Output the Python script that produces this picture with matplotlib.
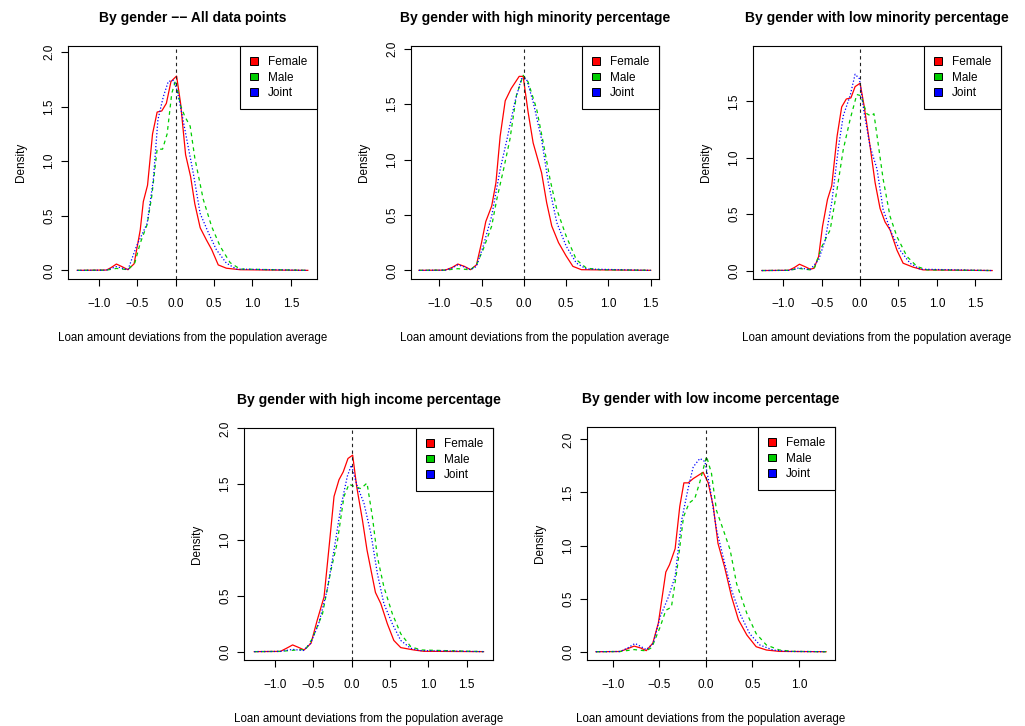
import matplotlib
matplotlib.use("Agg")
import matplotlib.pyplot as plt
from matplotlib.patches import Patch
from matplotlib.ticker import FuncFormatter

plt.rcParams['font.family'] = ['Liberation Sans', 'DejaVu Sans']

# --- density curves (x = deviation, y = density) ---

# panel 1: all data points
p1_fem_x = [-1.28, -0.90, -0.84, -0.77, -0.70, -0.62, -0.54, -0.46, -0.42, -0.365, -0.30, -0.24, -0.18, -0.12,
            -0.06, 0.013, 0.065, 0.13, 0.195, 0.25, 0.32, 0.40, 0.47, 0.555, 0.66, 0.84, 1.72]
p1_fem_y = [0, 0.003, 0.025, 0.058, 0.035, 0.006, 0.06, 0.37, 0.63, 0.78, 1.25, 1.45, 1.46, 1.53,
            1.73, 1.78, 1.53, 1.06, 0.86, 0.61, 0.39, 0.28, 0.19, 0.05, 0.02, 0.006, 0]
p1_male_x = [-1.28, -0.90, -0.77, -0.62, -0.53, -0.46, -0.37, -0.31, -0.24, -0.17, -0.11, -0.05, 0.0,
             0.065, 0.12, 0.19, 0.25, 0.36, 0.47, 0.58, 0.71, 0.84, 1.72]
p1_male_y = [0, 0.002, 0.018, 0.006, 0.07, 0.25, 0.42, 0.68, 1.11, 1.11, 1.25, 1.62, 1.74,
             1.51, 1.41, 1.32, 1.03, 0.65, 0.40, 0.22, 0.07, 0.012, 0]
p1_joint_x = [-1.28, -0.90, -0.77, -0.62, -0.51, -0.37, -0.29, -0.23, -0.16, -0.095, -0.03, 0.02, 0.08,
              0.14, 0.23, 0.32, 0.43, 0.53, 0.66, 0.79, 1.72]
p1_joint_y = [0, 0.002, 0.035, 0.005, 0.22, 0.43, 0.83, 1.38, 1.59, 1.73, 1.74, 1.65, 1.44,
              1.22, 0.89, 0.52, 0.34, 0.19, 0.067, 0.012, 0]

# panel 2: high minority percentage
p2_fem_x = [-1.24, -0.93, -0.85, -0.78, -0.70, -0.63, -0.56, -0.50, -0.45, -0.38, -0.33, -0.28, -0.22,
            -0.15, -0.055, -0.008, 0.05, 0.11, 0.21, 0.27, 0.33, 0.41, 0.50, 0.58, 0.68, 1.50]
p2_fem_y = [0, 0.002, 0.025, 0.057, 0.035, 0.006, 0.05, 0.25, 0.44, 0.58, 0.79, 1.21, 1.53,
            1.64, 1.75, 1.75, 1.43, 1.15, 0.88, 0.61, 0.40, 0.25, 0.13, 0.036, 0.006, 0]
p2_male_x = [-1.24, -0.93, -0.78, -0.63, -0.56, -0.48, -0.38, -0.32, -0.24, -0.165, -0.087, -0.008,
             0.05, 0.15, 0.23, 0.31, 0.39, 0.50, 0.62, 0.74, 0.90, 1.50]
p2_male_y = [0, 0.002, 0.015, 0.005, 0.05, 0.19, 0.40, 0.64, 0.91, 1.18, 1.58, 1.76,
             1.70, 1.46, 1.15, 0.82, 0.55, 0.31, 0.097, 0.02, 0.006, 0]
p2_joint_x = [-1.24, -0.93, -0.85, -0.78, -0.70, -0.63, -0.56, -0.48, -0.38, -0.28, -0.20, -0.106,
              -0.028, 0.03, 0.11, 0.21, 0.29, 0.39, 0.50, 0.62, 0.74, 1.50]
p2_joint_y = [0, 0.002, 0.02, 0.05, 0.03, 0.006, 0.036, 0.22, 0.49, 0.91, 1.18, 1.52,
              1.73, 1.73, 1.52, 1.18, 0.79, 0.43, 0.22, 0.066, 0.012, 0]

# panel 3: low minority percentage
p3_fem_x = [-1.28, -0.93, -0.86, -0.79, -0.72, -0.65, -0.60, -0.54, -0.49, -0.425, -0.37, -0.30, -0.24,
            -0.18, -0.12, -0.065, 0.0, 0.052, 0.13, 0.195, 0.26, 0.325, 0.39, 0.48, 0.56, 0.69, 0.82, 1.72]
p3_fem_y = [0, 0.002, 0.025, 0.056, 0.035, 0.012, 0.02, 0.125, 0.39, 0.63, 0.75, 1.19, 1.45,
            1.52, 1.53, 1.63, 1.66, 1.46, 1.10, 0.78, 0.55, 0.43, 0.36, 0.18, 0.065, 0.03, 0.006, 0]
p3_male_x = [-1.28, -0.93, -0.79, -0.65, -0.59, -0.50, -0.39, -0.30, -0.22, -0.13, -0.043, 0.009,
             0.087, 0.14, 0.18, 0.24, 0.30, 0.39, 0.48, 0.61, 0.74, 0.87, 1.72]
p3_male_y = [0, 0.002, 0.018, 0.006, 0.03, 0.21, 0.36, 0.72, 1.07, 1.34, 1.56, 1.55,
             1.39, 1.37, 1.39, 1.10, 0.81, 0.48, 0.30, 0.125, 0.036, 0.006, 0]
p3_joint_x = [-1.28, -0.93, -0.79, -0.65, -0.54, -0.455, -0.37, -0.28, -0.22, -0.13, -0.065, -0.009,
              0.052, 0.13, 0.22, 0.30, 0.41, 0.52, 0.65, 0.78, 1.72]
p3_joint_y = [0, 0.002, 0.024, 0.008, 0.095, 0.27, 0.60, 1.10, 1.37, 1.55, 1.74, 1.70,
              1.40, 1.10, 0.90, 0.54, 0.33, 0.18, 0.065, 0.012, 0]

# panel 4: high income percentage
p4_fem_x = [-1.27, -0.93, -0.85, -0.77, -0.70, -0.62, -0.53, -0.45, -0.36, -0.29, -0.23, -0.165, -0.11,
            -0.048, 0.013, 0.065, 0.14, 0.20, 0.31, 0.38, 0.465, 0.55, 0.64, 0.81, 0.94, 1.72]
p4_fem_y = [0, 0.002, 0.03, 0.06, 0.04, 0.015, 0.075, 0.28, 0.49, 0.97, 1.39, 1.54, 1.61,
            1.73, 1.76, 1.48, 1.18, 0.91, 0.53, 0.43, 0.25, 0.10, 0.036, 0.015, 0.003, 0]
p4_male_x = [-1.27, -0.93, -0.77, -0.60, -0.51, -0.38, -0.27, -0.19, -0.10, -0.035, 0.03, 0.12, 0.20,
             0.27, 0.335, 0.42, 0.53, 0.64, 0.77, 0.90, 1.72]
p4_male_y = [0, 0.002, 0.012, 0.02, 0.12, 0.34, 0.73, 0.97, 1.39, 1.50, 1.48, 1.46, 1.51,
             1.21, 0.85, 0.58, 0.34, 0.16, 0.045, 0.015, 0]
p4_joint_x = [-1.27, -0.93, -0.77, -0.63, -0.535, -0.43, -0.32, -0.23, -0.14, -0.057, -0.004, 0.074,
              0.16, 0.25, 0.335, 0.42, 0.53, 0.64, 0.77, 0.90, 1.72]
p4_joint_y = [0, 0.002, 0.02, 0.01, 0.075, 0.25, 0.55, 0.91, 1.30, 1.57, 1.67, 1.48,
              1.33, 1.06, 0.70, 0.43, 0.25, 0.10, 0.03, 0.009, 0]

# panel 5: low income percentage
p5_fem_x = [-1.18, -0.92, -0.85, -0.77, -0.70, -0.64, -0.57, -0.51, -0.43, -0.39, -0.33, -0.28, -0.236,
            -0.19, -0.136, -0.029, 0.025, 0.079, 0.13, 0.20, 0.275, 0.35, 0.44, 0.54, 0.65, 0.79, 1.29]
p5_fem_y = [0, 0.002, 0.025, 0.053, 0.035, 0.01, 0.08, 0.27, 0.75, 0.82, 0.97, 1.37, 1.59,
            1.59, 1.63, 1.69, 1.59, 1.37, 1.02, 0.80, 0.52, 0.30, 0.157, 0.047, 0.016, 0.003, 0]
p5_male_x = [-1.18, -0.92, -0.77, -0.64, -0.58, -0.49, -0.43, -0.37, -0.31, -0.24, -0.18, -0.12, -0.064,
             0.007, 0.06, 0.114, 0.186, 0.26, 0.33, 0.44, 0.54, 0.65, 0.79, 0.94, 1.29]
p5_male_y = [0, 0.002, 0.02, 0.008, 0.04, 0.235, 0.39, 0.42, 0.77, 1.27, 1.40, 1.44, 1.60,
             1.84, 1.68, 1.33, 1.15, 0.96, 0.64, 0.36, 0.17, 0.063, 0.016, 0.003, 0]
p5_joint_x = [-1.18, -0.92, -0.84, -0.76, -0.70, -0.64, -0.565, -0.49, -0.40, -0.33, -0.26, -0.19, -0.136,
              -0.064, -0.01, 0.043, 0.114, 0.186, 0.275, 0.365, 0.47, 0.58, 0.72, 0.87, 1.29]
p5_joint_y = [0, 0.002, 0.035, 0.078, 0.05, 0.02, 0.078, 0.33, 0.52, 0.71, 1.24, 1.54, 1.74,
              1.82, 1.79, 1.55, 1.15, 0.89, 0.58, 0.36, 0.17, 0.063, 0.016, 0.003, 0]

titles = [
    "By gender \u2212\u2212 All data points",
    "By gender with high minority percentage",
    "By gender with low minority percentage",
    "By gender with high income percentage",
    "By gender with low income percentage",
]
series_labels = ["Female", "Male", "Joint"]
x_ticks_wide = [-1.0, -0.5, 0.0, 0.5, 1.0, 1.5]
x_ticks_narrow = [-1.0, -0.5, 0.0, 0.5, 1.0]
y_ticks = [0.0, 0.5, 1.0, 1.5, 2.0]
xlabel = "Loan amount deviations from the population average"

panels = [
    ((p1_fem_x, p1_fem_y), (p1_male_x, p1_male_y), (p1_joint_x, p1_joint_y)),
    ((p2_fem_x, p2_fem_y), (p2_male_x, p2_male_y), (p2_joint_x, p2_joint_y)),
    ((p3_fem_x, p3_fem_y), (p3_male_x, p3_male_y), (p3_joint_x, p3_joint_y)),
    ((p4_fem_x, p4_fem_y), (p4_male_x, p4_male_y), (p4_joint_x, p4_joint_y)),
    ((p5_fem_x, p5_fem_y), (p5_male_x, p5_male_y), (p5_joint_x, p5_joint_y)),
]

# --- layout (pixel boxes of each plot region: left, right, top, bottom) ---
W, H = 1025, 726
boxes = [(68, 317, 46, 279), (411, 659, 46, 279), (753, 1001, 46, 279),
         (244, 493, 428, 660), (587, 835, 427, 660)]
xlims = [(-1.40, 1.84), (-1.334, 1.598), (-1.395, 1.835), (-1.404, 1.843), (-1.276, 1.386)]
ylims = [(-0.079, 2.055), (-0.078, 2.024), (-0.075, 1.99), (-0.075, 2.003), (-0.078, 2.116)]

colors = ["#FF0000", "#00CD00", "#0000FF"]
styles = ["-", (0, (3, 3)), (0, (1, 1.6))]


def minus_fmt(v, pos):
    return ("%.1f" % v).replace("-", "\u2212")


fig = plt.figure(figsize=(W / 100, H / 100), dpi=100)

for i, curves in enumerate(panels):
    l, r, t, b = boxes[i]
    ax = fig.add_axes([l / W, 1 - b / H, (r - l) / W, (b - t) / H])

    for (xs, ys), col, ls in zip(curves, colors, styles):
        ax.plot(xs, ys, color=col, linestyle=ls, linewidth=0.9)

    ax.axvline(0, color="#222222", linestyle=(0, (3, 3)), linewidth=0.8)

    ax.set_xlim(*xlims[i])
    ax.set_ylim(*ylims[i])
    ax.set_xticks(x_ticks_narrow if i == 4 else x_ticks_wide)
    ax.set_yticks([v for v in y_ticks if v <= ylims[i][1]])
    ax.xaxis.set_major_formatter(FuncFormatter(minus_fmt))
    ax.yaxis.set_major_formatter(FuncFormatter(minus_fmt))
    ax.tick_params(axis="both", length=5, width=0.8, labelsize=8.5, colors="black")
    ax.tick_params(axis="x", pad=9)
    ax.tick_params(axis="y", pad=4, labelrotation=90)
    for lab in ax.get_yticklabels():
        lab.set_va("center")
    for sp in ax.spines.values():
        sp.set_linewidth(0.8)

    ax.text(0.5, 1.12, titles[i], transform=ax.transAxes, ha="center", va="center",
            fontsize=10, fontweight="bold")
    ax.text(0.5, -0.255, xlabel, transform=ax.transAxes, ha="center", va="center", fontsize=8.3)
    ax.text(-0.19, 0.5, "Density", transform=ax.transAxes, ha="center", va="center",
            rotation=90, fontsize=8.5)

    handles = [Patch(facecolor=c, edgecolor="black", linewidth=0.7) for c in colors]
    ax.legend(handles, series_labels, loc="upper right", fontsize=8.5, frameon=True,
              fancybox=False, edgecolor="black", framealpha=1, borderaxespad=0,
              handlelength=0.65, handleheight=0.65, handletextpad=0.85,
              labelspacing=0.31, borderpad=0.85)
    ax.get_legend().get_frame().set_linewidth(0.8)

fig.savefig("out.png", dpi=100)
